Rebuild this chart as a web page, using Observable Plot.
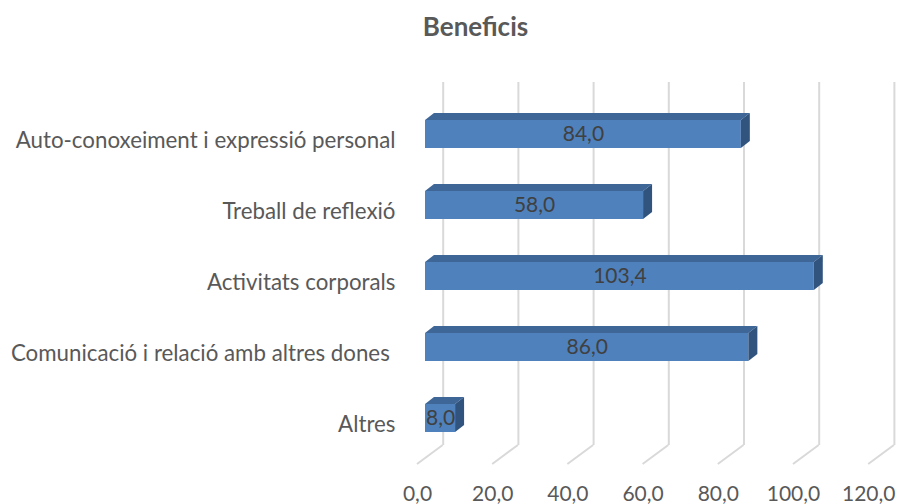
<!DOCTYPE html>
<html>
<head>
<meta charset="utf-8">
<script src="https://cdn.jsdelivr.net/npm/d3@7"></script>
<script src="https://cdn.jsdelivr.net/npm/@observablehq/plot@0.6"></script>
<style>
  html, body { margin: 0; padding: 0; background: #fff; }
  #chart svg { display: block; }
</style>
</head>
<body>
<div id="chart"></div>
<script>
const title = "Beneficis";
const categories = [
  "Auto-conoxeiment i expressió personal",
  "Treball de reflexió",
  "Activitats corporals",
  "Comunicació i relació amb altres dones ",
  "Altres"
];
const values = [84.0, 58.0, 103.4, 86.0, 8.0];
const xTicks = [0, 20, 40, 60, 80, 100, 120];

const data = categories.map((c, i) => ({cat: c, value: values[i]}));
const fmt = d => d.toFixed(1).replace(".", ",");

const FONT = "Lato, 'Open Sans', sans-serif";
const DEPTH_X = 9, DEPTH_Y = -7;      // 3D bar depth offset
const BACK_X = 17.7;                  // back wall offset
const FLOOR_X = -8, FLOOR_Y = 19;     // floor front offset

const svgNS = "http://www.w3.org/2000/svg";
function poly(points, fill) {
  const p = document.createElementNS(svgNS, "polygon");
  p.setAttribute("points", points.map(d => d.join(",")).join(" "));
  p.setAttribute("fill", fill);
  return p;
}

// floor slants of the gridlines
function floorLines(index, scales, values, dim) {
  const g = document.createElementNS(svgNS, "g");
  const yb = dim.height - dim.marginBottom;
  for (const t of xTicks) {
    const x = scales.x(t);
    const l = document.createElementNS(svgNS, "line");
    l.setAttribute("x1", x + BACK_X); l.setAttribute("y1", yb);
    l.setAttribute("x2", x + FLOOR_X); l.setAttribute("y2", yb + FLOOR_Y);
    l.setAttribute("stroke", "#d9d9d9");
    l.setAttribute("stroke-width", 2);
    g.appendChild(l);
  }
  return g;
}

// top and side faces of the 3D bars
function barFaces(index, scales) {
  const g = document.createElementNS(svgNS, "g");
  const bw = scales.y.bandwidth ? scales.y.bandwidth() : 29;
  for (const d of data) {
    const x0 = scales.x(0), x1 = scales.x(d.value);
    const y0 = scales.y(d.cat), y1 = y0 + bw;
    g.appendChild(poly([[x0, y0], [x1, y0], [x1 + DEPTH_X, y0 + DEPTH_Y], [x0 + DEPTH_X, y0 + DEPTH_Y]], "#3e6697"));
    g.appendChild(poly([[x1, y0], [x1 + DEPTH_X, y0 + DEPTH_Y], [x1 + DEPTH_X, y1 + DEPTH_Y], [x1, y1]], "#31547f"));
  }
  return g;
}

const chart = Plot.plot({
  width: 898,
  height: 504,
  marginTop: 82,
  marginBottom: 59,
  marginLeft: 0,
  marginRight: 0,
  style: {fontFamily: FONT, background: "#fff"},
  x: {domain: [0, 120], range: [425, 876.2], axis: null},
  y: {domain: categories, range: [74.5, 477.7], padding: 0.6, axis: null},
  marks: [
    Plot.ruleX(xTicks, {x: d => d, dx: BACK_X, stroke: "#d9d9d9", strokeWidth: 2}),
    floorLines,
    Plot.barX(data, {x: "value", y: "cat", fill: "#4f81bd"}),
    barFaces,
    Plot.text(data, {x: d => d.value / 2, y: "cat", text: d => fmt(d.value),
      fill: "#404040", fontSize: 21}),
    Plot.text(categories, {y: d => d, text: d => d, frameAnchor: "left", dx: 395, dy: 6.5,
      textAnchor: "end", fill: "#595959", fontSize: 22.3}),
    Plot.text(xTicks, {x: d => d, text: fmt, frameAnchor: "bottom", lineAnchor: "middle",
      dx: FLOOR_X, dy: 49, fill: "#595959", fontSize: 21}),
    Plot.text([title], {text: d => d, frameAnchor: "top", lineAnchor: "middle", dx: 26, dy: -55,
      fill: "#595959", fontSize: 26, fontWeight: "bold"})
  ]
});
document.getElementById("chart").appendChild(chart);
</script>
</body>
</html>
